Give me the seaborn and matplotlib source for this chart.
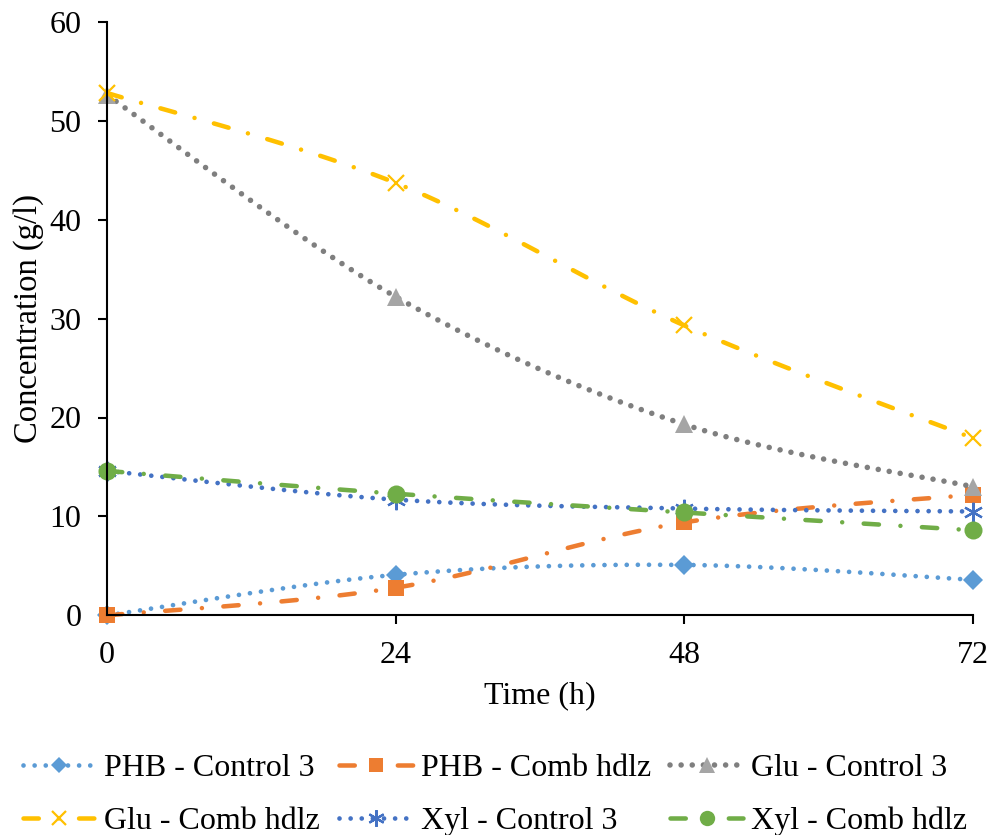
import numpy as np
import pandas as pd
import matplotlib
matplotlib.use("Agg")
import matplotlib.pyplot as plt
from matplotlib.lines import Line2D
import seaborn as sns

# data
time_h = [0, 24, 48, 72]
phb_control = [0.0, 4.1, 5.1, 3.6]
phb_comb = [0.0, 2.8, 9.4, 12.2]
glu_control = [52.6, 32.2, 19.3, 13.0]
glu_comb = [52.8, 43.7, 29.3, 17.9]
xyl_control = [14.6, 11.7, 10.8, 10.5]
xyl_comb = [14.6, 12.3, 10.4, 8.6]

labels = ["PHB - Control 3", "PHB - Comb hdlz", "Glu - Control 3",
          "Glu - Comb hdlz", "Xyl - Control 3", "Xyl - Comb hdlz"]

sns.set_style("white")
plt.rcParams['font.family'] = ['Liberation Serif', 'DejaVu Serif']
plt.rcParams['lines.scale_dashes'] = False
plt.rcParams['text.color'] = 'black'
plt.rcParams['axes.labelcolor'] = 'black'

dot = (0.01, 8)
dashdot = (11, 14.5, 0.01, 14.5)
longdashdot = (11, 15.5, 0.01, 15.5)

# series: values, line colour, marker colour, marker, marker size, dash pattern, lw
styles = [
    (phb_control, '#5B9BD5', '#5B9BD5', 'D', 10, dot, 3.4),
    (phb_comb, '#ED7D31', '#ED7D31', 's', 12, longdashdot, 3.25),
    (glu_control, '#7F7F7F', '#A5A5A5', '^', 13, dot, 4.0),
    (glu_comb, '#FFC000', '#FFC000', 'x', 12, dashdot, 3.25),
    (xyl_control, '#4472C4', '#4472C4', (6, 2, 0), 14, dot, 3.4),
    (xyl_comb, '#70AD47', '#70AD47', 'o', 13, longdashdot, 3.25),
]


def smooth_curve(x, y, n=40):
    # excel style smoothed line through the points (bezier, tension 1/6)
    pts = np.column_stack([x, y]).astype(float)
    p = np.vstack([pts[0], pts, pts[-1]])
    t = np.linspace(0, 1, n)[:, None]
    out = []
    for i in range(1, len(p) - 2):
        p0, p1, p2, p3 = p[i - 1], p[i], p[i + 1], p[i + 2]
        c1 = p1 + (p2 - p0) / 6
        c2 = p2 - (p3 - p1) / 6
        seg = (1 - t)**3 * p1 + 3 * (1 - t)**2 * t * c1 + 3 * (1 - t) * t**2 * c2 + t**3 * p2
        out.append(seg if i == 1 else seg[1:])
    return np.vstack(out)


fig = plt.figure(figsize=(9.91, 8.35), dpi=100)
ax = fig.add_axes([0.108, 0.263, 0.874, 0.711])

handles = []
for (vals, lc, mc, mk, ms, dash, lw), lab in zip(styles, labels):
    curve = smooth_curve(time_h, vals)
    df = pd.DataFrame({"x": curve[:, 0], "y": curve[:, 1]})
    sns.lineplot(data=df, x="x", y="y", sort=False, estimator=None, ax=ax,
                 color=lc, linewidth=lw)
    ln = ax.lines[-1]
    ln.set_dashes(dash)
    ln.set_dash_capstyle('round')
    ln.set_clip_on(False)
    mew = 1.6 if mk in ('x', (6, 2, 0)) else 0
    ax.plot(time_h, vals, linestyle='none', marker=mk, markersize=ms,
            color=mc, markeredgecolor=mc, markeredgewidth=mew, clip_on=False)
    h = Line2D([], [], color=lc, linewidth=lw, marker=mk, markersize=ms * 0.85,
               markerfacecolor=mc, markeredgecolor=mc, markeredgewidth=mew)
    h.set_dashes(dash)
    h.set_dash_capstyle('round')
    handles.append(h)

ax.set_xlim(0, 72)
ax.set_ylim(0, 60)
ax.set_xticks(time_h)
ax.set_yticks(range(0, 61, 10))
for s in ['top', 'right']:
    ax.spines[s].set_visible(False)
for s in ['left', 'bottom']:
    ax.spines[s].set_color('black')
    ax.spines[s].set_linewidth(1.5)
ax.tick_params(axis='both', direction='out', length=6.5, width=1.5,
               colors='black', labelsize=23, bottom=True, left=True)
ax.tick_params(axis='y', pad=12)
ax.tick_params(axis='x', pad=12)
ax.set_xlabel("Time (h)", fontsize=23, labelpad=8)
ax.set_ylabel("Concentration (g/l)", fontsize=23.5, labelpad=4)

# legend filled row by row like the original
order = [0, 3, 1, 4, 2, 5]
fig.legend([handles[i] for i in order], [labels[i] for i in order],
           loc='center', bbox_to_anchor=(0.4995, 0.048),
           ncol=3, frameon=False, fontsize=23, handlelength=2.3,
           handletextpad=0.25, columnspacing=0.6, labelspacing=0.75,
           numpoints=1)

fig.savefig("out.png", dpi=100)
